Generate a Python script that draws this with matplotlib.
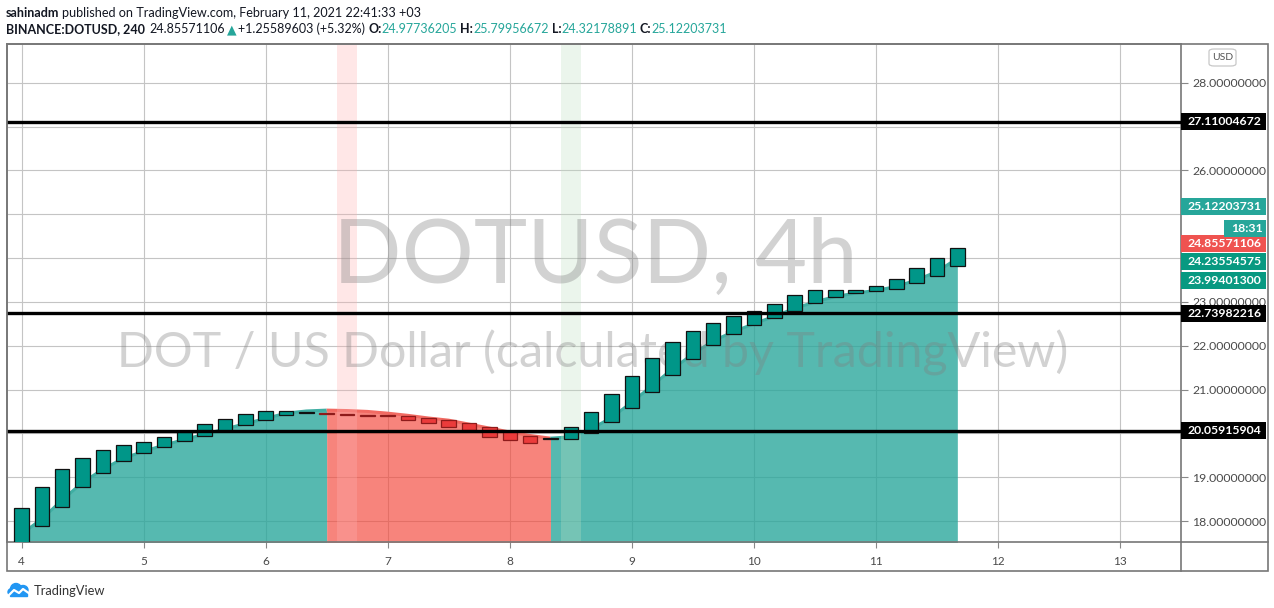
import numpy as np
import matplotlib
matplotlib.use("Agg")
import matplotlib.pyplot as plt
from matplotlib.patches import Rectangle, FancyBboxPatch, Ellipse
from matplotlib.transforms import blended_transform_factory

W, H = 1274, 608
FONT = ["Lato", "DejaVu Sans"]

# ==============================
#  DATA (4h Heikin-Ashi style bars, Feb 4 -> Feb 11)
# ==============================
ha_open = [17.30, 17.89, 18.33, 18.77, 19.09, 19.36, 19.55, 19.68, 19.82, 19.93,
           20.06, 20.18, 20.30, 20.41, 20.46, 20.46, 20.44, 20.42, 20.41, 20.40,
           20.34, 20.31, 20.24, 20.14, 20.04, 19.93, 19.87, 19.86, 20.00, 20.25,
           20.57, 20.94, 21.32, 21.69, 22.01, 22.26, 22.47, 22.63, 22.78, 22.97,
           23.10, 23.20, 23.24, 23.29, 23.42, 23.58, 23.82]
ha_close = [18.30, 18.77, 19.18, 19.43, 19.61, 19.73, 19.81, 19.92, 20.04, 20.21,
            20.32, 20.43, 20.50, 20.51, 20.48, 20.44, 20.42, 20.40, 20.39, 20.30,
            20.24, 20.15, 20.08, 19.91, 19.84, 19.77, 19.89, 20.14, 20.48, 20.90,
            21.31, 21.71, 22.08, 22.33, 22.51, 22.67, 22.79, 22.94, 23.15, 23.26,
            23.26, 23.27, 23.36, 23.53, 23.77, 24.01, 24.24]
area_val = [17.70, 18.05, 18.48, 18.88, 19.18, 19.43, 19.59, 19.73, 19.86, 19.98,
            20.10, 20.22, 20.34, 20.46, 20.51, 20.53, 20.52, 20.50, 20.46, 20.41,
            20.35, 20.30, 20.21, 20.12, 20.03, 19.95, 19.89, 19.92, 20.10, 20.36,
            20.71, 21.09, 21.47, 21.81, 22.11, 22.32, 22.50, 22.67, 22.85, 23.00,
            23.12, 23.20, 23.26, 23.35, 23.50, 23.69, 23.99]
first_day = 4
bars_per_day = 6
levels = [27.11004672, 22.73982216, 20.05915904]
red_bg_bar = 16      # index of bar with red background
green_bg_bar = 27    # index of bar with green background
day_ticks = list(range(4, 14))
price_ticks = list(range(18, 29))
hidden_ticks = [20, 24, 25, 27]   # covered by tags on the price scale

# price-scale tags: text, pixel centre, colour
tags = [
    ("25.12203731", 207, "#26a69a"),
    ("24.85571106", 243, "#ef5350"),
    ("24.23554575", 261.5, "#089981"),
    ("23.99401300", 280.5, "#089981"),
]

TEAL = "#26a69a"
RED = "#f44336"

def fx(px): return px / W
def fy(py): return 1 - py / H

x = first_day + np.arange(len(ha_open)) / bars_per_day
o = np.array(ha_open); c = np.array(ha_close); a = np.array(area_val)
up = c >= o
up[15] = False   # tiny bar at the turn is drawn red

YMIN, YMAX = 17.521, 28.883
fig = plt.figure(figsize=(W / 100, H / 100), dpi=100)
ax = fig.add_axes([fx(7), fy(542), fx(1181) - fx(7), fy(44) - fy(542)])
ax.set_xlim(3.881, 13.499)
ax.set_ylim(YMIN, YMAX)

def py_to_price(py):
    return YMAX - (py - 44) / 498 * (YMAX - YMIN)

# area under the line, coloured by bar direction
runs, start = [], 0
for i in range(1, len(x)):
    if i == len(x) - 1 or up[i] != up[start]:
        runs.append((start, i, up[start]))
        start = i
for s, e, is_up in runs:
    col = TEAL if is_up else RED
    ax.fill_between(x[s:e + 1], a[s:e + 1], YMIN - 1, color=col,
                    alpha=0.78 if is_up else 0.65, lw=0, zorder=1)
    ax.plot(x[s:e + 1], a[s:e + 1], color="#3faea3" if is_up else "#f26b63",
            lw=2.2, zorder=1.5, solid_capstyle="butt")

# background highlight bars
step = 1 / bars_per_day
ax.axvspan(x[red_bg_bar] - step / 2, x[red_bg_bar] + step / 2, color="#ffb2b2", alpha=0.3, lw=0, zorder=1.6)
ax.axvspan(x[green_bg_bar] - step / 2, x[green_bg_bar] + step / 2, color="#c0e0c2", alpha=0.3, lw=0, zorder=1.6)

# watermark
ax.text(fx(595), fy(283), "DOTUSD, 4h", transform=fig.transFigure, ha="center",
        va="baseline", fontsize=65, color="#7f7f7f", alpha=0.35, family=FONT, zorder=2)
ax.text(fx(593), fy(367), "DOT / US Dollar (calculated by TradingView)", transform=fig.transFigure,
        ha="center", va="baseline", fontsize=34.8, color="#7f7f7f", alpha=0.35, family=FONT, zorder=2)

# candles
body = np.where(np.abs(c - o) < 0.015, 0.015, c - o)
ax.bar(x[up], body[up], bottom=o[up], width=0.119, color="#009688", edgecolor="#111111", lw=0.9, zorder=3)
ax.bar(x[~up], body[~up], bottom=o[~up], width=0.119, color="#eb3b3b", edgecolor="#8e1b1b", lw=0.9, zorder=3)

# horizontal levels
for lv in levels:
    ax.axhline(lv, color="black", lw=2.4, zorder=4)

# grid + axes
ax.set_xticks(day_ticks)
ax.set_xticklabels([str(d) for d in day_ticks])
ax.set_yticks(price_ticks)
ax.set_yticklabels(["" if p in hidden_ticks else f"{p:.8f}" for p in price_ticks])
ax.yaxis.tick_right()
ax.grid(True, color="#c4c4c4", lw=0.8)
ax.set_axisbelow(True)
ax.tick_params(axis="y", length=5, width=0.8, color="#888888", pad=3, labelsize=8.8, labelcolor="#4a4a4a")
ax.tick_params(axis="x", length=4, width=0.8, color="#888888", pad=6, labelsize=8.5, labelcolor="#4a4a4a")
for lab in ax.get_xticklabels() + ax.get_yticklabels():
    lab.set_family(FONT)
for sp in ax.spines.values():
    sp.set_color("#777777"); sp.set_linewidth(1.2)

# outer frame and separators
fig.add_artist(Rectangle((fx(7), fy(571)), fx(1268) - fx(7), fy(44) - fy(571), transform=fig.transFigure,
                         fill=False, ec="#777777", lw=1.2, zorder=5))
fig.add_artist(plt.Line2D([fx(1181), fx(1181)], [fy(542), fy(571)], transform=fig.transFigure, color="#777777", lw=1.2))
fig.add_artist(plt.Line2D([fx(1181), fx(1268)], [fy(542), fy(542)], transform=fig.transFigure, color="#777777", lw=1.2))

# price tags
bt = blended_transform_factory(fig.transFigure, ax.transData)
half = 8.5 / 498 * (YMAX - YMIN)
def tag(txt, yv, col, left=1181):
    fig.add_artist(Rectangle((fx(left), yv - half), fx(1266) - fx(left), 2 * half, transform=bt,
                             color=col, lw=0, zorder=6))
    fig.text(fx(left + 7), yv, txt, transform=bt, color="white", fontsize=8.8, fontweight="bold",
             va="center", ha="left", family=FONT, zorder=7)

for lv in levels:
    tag(f"{lv:.8f}", lv, "black")
for txt, pyc, col in tags:
    tag(txt, py_to_price(pyc), col)
tag("18:31", py_to_price(228.5), "#26a69a", left=1224)

# USD box
fig.add_artist(FancyBboxPatch((fx(1209), fy(66)), fx(1236) - fx(1209), fy(49) - fy(66),
                              boxstyle="round,pad=0,rounding_size=0.004", transform=fig.transFigure,
                              fc="white", ec="#c8c8c8", lw=0.9, zorder=6))
fig.text(fx(1222.5), fy(57.5), "USD", color="#555555", fontsize=7.5, ha="center", va="center",
         family=FONT, zorder=8)

# header
renderer = fig.canvas.get_renderer()
def write_line(pieces, x_px, y_px, size):
    xp = x_px
    for txt, col, wt, gap in pieces:
        t = fig.text(fx(xp), fy(y_px), txt, color=col, fontweight=wt, fontsize=size,
                     family=FONT, va="baseline", ha="left")
        xp += t.get_window_extent(renderer).width + gap

write_line([("sahinadm", "#131722", "bold", 3),
            ("published on TradingView.com, February 11, 2021 22:41:33 +03", "#131722", "normal", 0)],
           6, 17, 9.1)
write_line([("BINANCE:DOTUSD, 240", "#131722", "bold", 4),
            ("24.85571106", "#131722", "normal", 2),
            ("▲", TEAL, "normal", 2),
            ("+1.25589603 (+5.32%)", "#131722", "normal", 3),
            ("O:", "#131722", "bold", 0), ("24.97736205", TEAL, "normal", 3),
            ("H:", "#131722", "bold", 0), ("25.79956672", TEAL, "normal", 3),
            ("L:", "#131722", "bold", 0), ("24.32178891", TEAL, "normal", 3),
            ("C:", "#131722", "bold", 0), ("25.12203731", TEAL, "normal", 0)],
           6, 33, 9.0)

# footer logo
lax = fig.add_axes([fx(7), fy(598), fx(31) - fx(7), fy(580) - fy(598)])
lax.set_xlim(0, 24); lax.set_ylim(0, 18); lax.axis("off")
blue = "#2196f3"
lax.add_patch(Ellipse((9, 9), 11, 11, color=blue))
lax.add_patch(Ellipse((16, 8), 10, 9, color=blue))
lax.add_patch(Ellipse((5, 6), 8, 7, color=blue))
lax.add_patch(Rectangle((3, 2.5), 17, 5, color=blue))
lax.plot([1, 7, 12, 16, 23], [2, 8, 5, 9, 4], color="white", lw=1.6)
fig.text(fx(34), fy(595), "TradingView", color="#333333", fontsize=9.3, family=FONT, va="baseline", ha="left")

fig.savefig("out.png", dpi=100)
